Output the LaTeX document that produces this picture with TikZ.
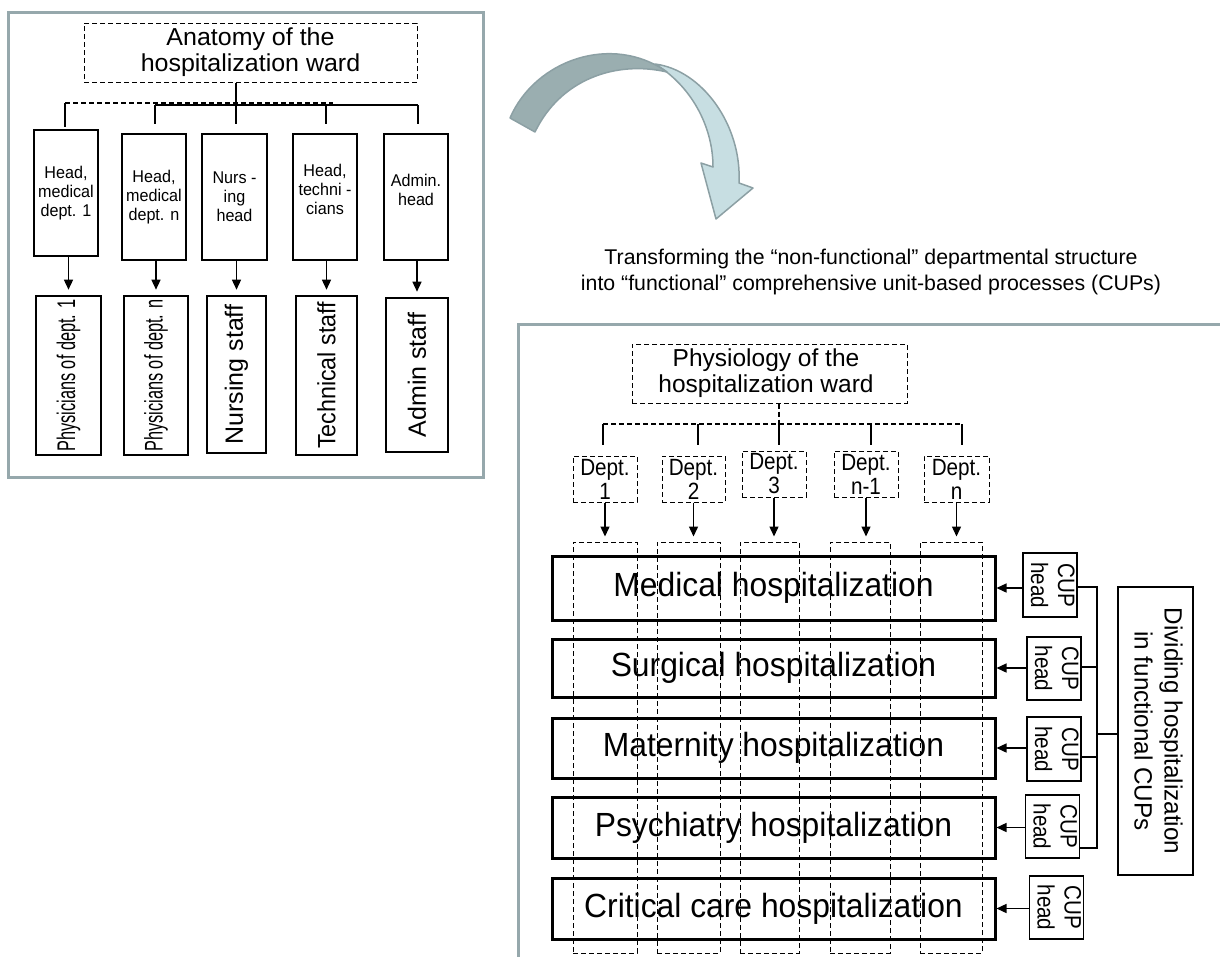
\documentclass[tikz,border=0pt]{standalone}
\usepackage{fontspec}
\usepackage{graphicx}
\usetikzlibrary{arrows.meta}
\setmainfont{Liberation Sans}
\newfontfamily\fAnat[FakeStretch=1.02]{Liberation Sans}
\newfontfamily\fHeadx[FakeStretch=0.95]{Liberation Sans}
\newfontfamily\fStaff[FakeStretch=1.0]{Liberation Sans}
\newfontfamily\fStaffT[FakeStretch=0.93]{Liberation Sans}
\newfontfamily\fStaffP[FakeStretch=0.64]{Liberation Sans}
\newfontfamily\fTrans[FakeStretch=1.0]{Liberation Sans}
\newfontfamily\fPhys[FakeStretch=1.0]{Liberation Sans}
\newfontfamily\fDept[FakeStretch=0.88]{Liberation Sans}
\newfontfamily\fHosp[FakeStretch=0.95]{Liberation Sans}
\newfontfamily\fCup[FakeStretch=0.87]{Liberation Sans}
\newfontfamily\fDiv[FakeStretch=0.97]{Liberation Sans}
\definecolor{framegray}{RGB}{150,168,172}
\definecolor{darkband}{RGB}{154,174,176}
\definecolor{lightband}{RGB}{199,222,226}
\definecolor{bandedge}{RGB}{140,160,164}
\begin{document}
\begin{tikzpicture}[x=1pt,y=-1pt,
  thickbox/.style={draw, line width=2.6pt, inner sep=0pt, align=center},
  dashbox/.style={draw, line width=1pt, dash pattern=on 5pt off 3pt, inner sep=0pt, align=center},
  thinbox/.style={draw, line width=1.3pt, inner sep=0pt, align=center},
  arr/.style={line width=1.4pt, -{Triangle[length=10pt,width=9pt]}},
  conn/.style={line width=1.2pt},
  dconn/.style={line width=1.1pt, dash pattern=on 5pt off 3pt},
  frameline/.style={draw=framegray, line width=3pt},
  anatfont/.style={font={\fAnat\fontsize{24.5}{26}\selectfont}},
  headfont/.style={font={\fHeadx\fontsize{17}{19}\selectfont}},
  stafffont/.style={font={\fStaff\fontsize{25}{30}\selectfont}},
  stafftfont/.style={font={\fStaffT\fontsize{25}{30}\selectfont}},
  staffpfont/.style={font={\fStaffP\fontsize{25.5}{30}\selectfont}},
  transfont/.style={font={\fTrans\fontsize{21.3}{26}\selectfont}},
  physfont/.style={font={\fPhys\fontsize{24.5}{26}\selectfont}},
  deptfont/.style={font={\fDept\fontsize{23.5}{24}\selectfont}},
  hospfont/.style={font={\fHosp\fontsize{33.5}{38}\selectfont}},
  cupfont/.style={font={\fCup\fontsize{23.7}{27}\selectfont}},
  divfont/.style={font={\fDiv\fontsize{25}{30}\selectfont}}]
\useasboundingbox (0,0) rectangle (1220,956);
\clip (0,0) rectangle (1220,956);

% ---------- left panel ----------
\draw[frameline] (8,12) rectangle (483,477);

\node[dashbox, anatfont, minimum width=333pt, minimum height=59pt] (anat) at (250.5,52.5)
  {Anatomy of the\\hospitalization ward};

\node[thickbox, headfont, minimum width=64pt, minimum height=126pt] (h1) at (66,193) {Head,\\medical\\dept. 1};
\node[thickbox, headfont, minimum width=64pt, minimum height=126pt] (h2) at (154,197) {Head,\\medical\\dept. n};
\node[thickbox, headfont, minimum width=65pt, minimum height=126pt] (h3) at (234.5,197) {Nurs -\\ing\\head};
\node[thickbox, minimum width=64pt, minimum height=126pt] (h4) at (325,197) {};
\node[headfont, align=center, inner sep=0pt] (h4t) at (325,189) {Head,\\techni -\\cians};
\node[thickbox, minimum width=64pt, minimum height=126pt] (h5) at (416,197) {};
\node[headfont, align=center, inner sep=0pt] (h5t) at (416,190) {Admin.\\head};

\node[thickbox, staffpfont, minimum width=65pt, minimum height=159pt] (s1) at (68.5,375.5) {\rotatebox{90}{Physicians of dept. 1}};
\node[thickbox, staffpfont, minimum width=64pt, minimum height=159pt] (s2) at (156,375.5) {\rotatebox{90}{Physicians of dept. n}};
\node[thickbox, stafffont, minimum width=59pt, minimum height=157pt] (s3) at (236.5,374.5) {\rotatebox{90}{Nursing staff}};
\node[thickbox, stafftfont, minimum width=61pt, minimum height=159pt] (s4) at (326.5,375.5) {\rotatebox{90}{Technical staff}};
\node[thickbox, stafffont, minimum width=62pt, minimum height=154pt] (s5) at (417,375) {\rotatebox{90}{Admin staff}};

% bus lines
\coordinate (aj) at (236,104);
\coordinate (bl) at (65,103);
\coordinate (bmx) at (333,103);
\coordinate (sl) at (155,105);
\coordinate (sx4) at (326,105);
\coordinate (sr) at (418,105);
\draw[dconn] (bl) -- (bmx);
\draw[conn] (sl) -- (sr);
\draw[conn, shorten >=9pt] (aj |- anat.south) -- (aj |- h3.north);
\draw[conn, shorten >=2pt] (bl) -- (bl |- h1.north);
\draw[conn, shorten >=9pt] (sl) -- (sl |- h2.north);
\draw[conn, shorten >=9pt] (sx4) -- (sx4 |- h4.north);
\draw[conn, shorten >=9pt] (sr) -- (sr |- h5.north);

\foreach \i in {1,...,5}{
  \draw[arr, shorten >=5pt] (s\i.north |- h\i.south) -- (s\i.north);
}

% ---------- curved arrow ----------
\filldraw[fill=lightband, draw=bandedge, line width=1.5pt, line join=round]
  (655,64) .. controls (702,70) and (742,125) .. (739,183) -- (753,188) -- (716,219)
  -- (701,163) -- (713,167) .. controls (713,125) and (690,85) .. (655,64) -- cycle;
\filldraw[fill=darkband, draw=bandedge, line width=1.5pt, line join=round]
  (510,118) .. controls (535,60) and (612,33) .. (667,72)
  .. controls (615,60) and (560,80) .. (535,132) -- cycle;

\node[transfont, align=center, inner sep=0pt] (trans) at (871,272)
  {Transforming the “non-functional” departmental structure\\into “functional” comprehensive unit-based processes (CUPs)};

% ---------- right panel ----------
\draw[frameline] (518,960) -- (518,324) -- (1224,324);

\node[dashbox, minimum width=275pt, minimum height=59pt] (phys) at (769.5,373.5) {};
\node[physfont, align=center, inner sep=0pt] (physt) at (766,373) {Physiology of the\\hospitalization ward};

\node[dashbox, deptfont, minimum width=64pt, minimum height=46pt] (d1) at (605,479) {Dept.\\1};
\node[dashbox, deptfont, minimum width=63pt, minimum height=46pt] (d2) at (693.5,479) {Dept.\\2};
\node[dashbox, deptfont, minimum width=64pt, minimum height=46pt] (d3) at (774,474) {Dept.\\3};
\node[dashbox, deptfont, minimum width=64pt, minimum height=46pt] (d4) at (866,474) {Dept.\\n-1};
\node[dashbox, deptfont, minimum width=65pt, minimum height=46pt] (d5) at (956.5,479) {Dept.\\n};

\coordinate (pj) at (779,424);
\coordinate (p1) at (603,424);
\coordinate (p2) at (698,424);
\coordinate (p4) at (871,424);
\coordinate (p5) at (962,424);
\draw[dconn] (pj |- phys.south) -- (pj);
\draw[dconn] (p1) -- (p5);
\draw[conn, shorten >=11pt] (p1) -- (p1 |- d1.north);
\draw[conn, shorten >=11pt] (p2) -- (p2 |- d2.north);
\draw[conn, shorten >=6pt] (pj) -- (pj |- d3.north);
\draw[conn, shorten >=6pt] (p4) -- (p4 |- d4.north);
\draw[conn, shorten >=11pt] (p5) -- (p5 |- d5.north);

% hospitalization boxes
\node[thickbox, hospfont, line width=3pt, minimum width=443pt, minimum height=64pt] (hm) at (773.5,588) {Medical hospitalization};
\node[thickbox, hospfont, line width=3pt, minimum width=443pt, minimum height=58pt] (hs) at (773.5,668) {Surgical hospitalization};
\node[thickbox, hospfont, line width=3pt, minimum width=443pt, minimum height=60pt] (hma) at (773.5,748) {Maternity hospitalization};
\node[thickbox, hospfont, line width=3pt, minimum width=443pt, minimum height=61pt] (hp) at (773.5,827.5) {Psychiatry hospitalization};
\node[thickbox, hospfont, line width=3pt, minimum width=443pt, minimum height=61pt] (hc) at (773.5,908.5) {Critical care hospitalization};

% dashed columns
\node[dashbox, minimum width=64pt, minimum height=411pt] (c1) at (605,747.5) {};
\node[dashbox, minimum width=63pt, minimum height=411pt] (c2) at (688.5,747.5) {};
\node[dashbox, minimum width=59pt, minimum height=411pt] (c3) at (769.5,747.5) {};
\node[dashbox, minimum width=60pt, minimum height=411pt] (c4) at (860,747.5) {};
\node[dashbox, minimum width=62pt, minimum height=411pt] (c5) at (951,747.5) {};

\draw[arr, shorten >=5pt] (d1.south) -- (d1.south |- c1.north);
\draw[arr, shorten >=5pt] (d2.south) -- (d2.south |- c2.north);
\draw[arr, shorten >=5pt] (d3.south) -- (d3.south |- c3.north);
\draw[arr, shorten >=5pt] (d4.south) -- (d4.south |- c4.north);
\draw[arr, shorten >=5pt] (d5.south) -- (d5.south |- c5.north);

% CUP heads
\node[thinbox, cupfont, minimum width=46pt, minimum height=64pt] (cu1) at (1050,585) {\rotatebox{-90}{\begin{tabular}{@{}c@{}}CUP\\head\end{tabular}}};
\node[thinbox, cupfont, minimum width=46pt, minimum height=63pt] (cu2) at (1054,668.5) {\rotatebox{-90}{\begin{tabular}{@{}c@{}}CUP\\head\end{tabular}}};
\node[thinbox, cupfont, minimum width=46pt, minimum height=64pt] (cu3) at (1054,749) {\rotatebox{-90}{\begin{tabular}{@{}c@{}}CUP\\head\end{tabular}}};
\node[thinbox, cupfont, minimum width=47pt, minimum height=63pt] (cu4) at (1052.5,826.5) {\rotatebox{-90}{\begin{tabular}{@{}c@{}}CUP\\head\end{tabular}}};
\node[thinbox, cupfont, minimum width=47pt, minimum height=63pt] (cu5) at (1056.5,907.5) {\rotatebox{-90}{\begin{tabular}{@{}c@{}}CUP\\head\end{tabular}}};

\draw[arr] (cu1.west |- hm.east) -- (hm.east);
\draw[arr] (cu2.west |- hs.east) -- (hs.east);
\draw[arr] (cu3.west |- hma.east) -- (hma.east);
\draw[arr] (cu4.west |- hp.east) -- (hp.east);
\draw[arr] (cu5.west |- hc.east) -- (hc.east);

\node[thinbox, divfont, minimum width=75pt, minimum height=288pt] (div) at (1155.5,731)
  {\rotatebox{-90}{\begin{tabular}{@{}c@{}}Dividing hospitalization\\in functional CUPs\end{tabular}}};

\coordinate (b1) at (1097,587);
\coordinate (b2) at (1097,667);
\coordinate (b3) at (1097,757);
\coordinate (b4) at (1097,848);
\coordinate (bmid) at (1097,734);
\draw[conn] (b1 -| cu1.east) -- (b1) -- (b4) -- (b4 -| cu4.east);
\draw[conn] (b2 -| cu2.east) -- (b2);
\draw[conn] (b3 -| cu3.east) -- (b3);
\draw[conn] (bmid) -- (bmid -| div.west);
\end{tikzpicture}
\end{document}
